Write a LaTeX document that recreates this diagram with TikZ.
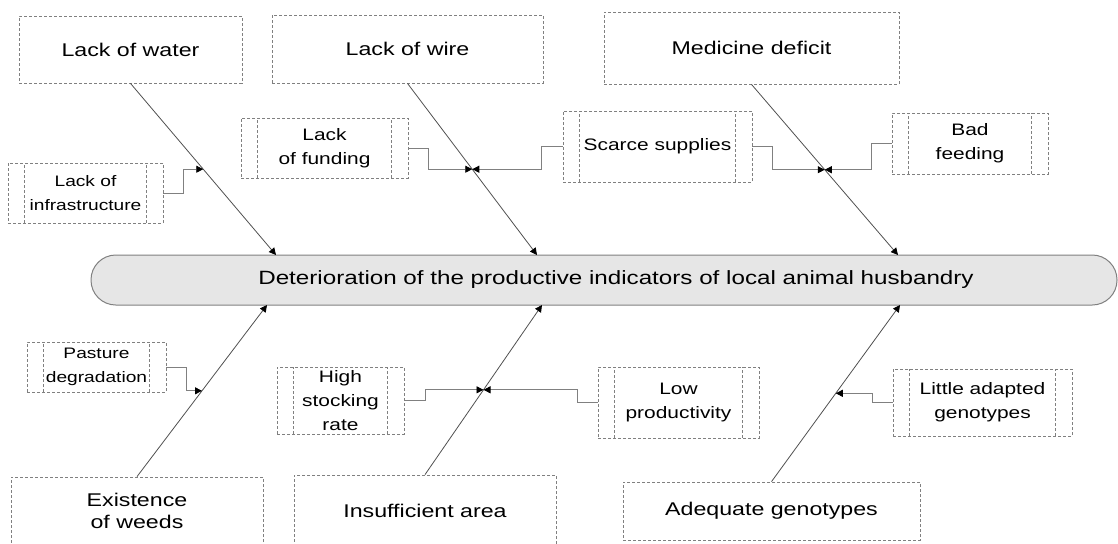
\documentclass[tikz,border=0pt]{standalone}
\usepackage{fontspec}
\setmainfont{Liberation Sans}[FakeStretch=1.26]
\usetikzlibrary{arrows.meta,calc}
\definecolor{lineG}{HTML}{808080}
\definecolor{boneG}{HTML}{505050}
\definecolor{headF}{HTML}{E6E6E6}
\tikzset{cause/.style={draw=lineG, dash pattern=on 1.5pt off 1pt, line width=0.4pt, font=\fontsize{9.2}{11}\selectfont, align=center, inner sep=0pt},
  sub/.style={cause, font=\fontsize{8.3}{12}\selectfont, path picture={\draw[lineG, dash pattern=on 1.5pt off 1pt] ([xshift=8.2pt]path picture bounding box.south west) -- ([xshift=8.2pt]path picture bounding box.north west) ([xshift=-8.2pt]path picture bounding box.south east) -- ([xshift=-8.2pt]path picture bounding box.north east);}},
  small/.style={font=\fontsize{7.6}{12}\selectfont},
  head/.style={draw=lineG, fill=headF, line width=0.5pt, rounded corners=12.4pt, minimum width=513pt, minimum height=25pt, inner sep=0pt, font=\fontsize{9.6}{11}\selectfont},
  bone/.style={-{Triangle[length=3.5pt,width=3.5pt,color=black]}, line width=0.4pt, boneG},
  twig/.style={-{Triangle[length=3.5pt,width=3.5pt,color=black]}, line width=0.4pt, lineG}}
\begin{document}
\begin{tikzpicture}[x=0.5pt,y=-0.5pt]
\useasboundingbox (0,0) rectangle (1118,543); \clip (0,0) rectangle (1118,543);
% ---- main causes, top ----
\node[cause, minimum width=111.5pt, minimum height=33.5pt] (water) at (130.5,49.5) {Lack of water};
\node[cause, minimum width=135.5pt, minimum height=34pt] (wire) at (407.5,49) {Lack of wire};
\node[cause, minimum width=147.5pt, minimum height=36pt] (medicine) at (751.5,48) {Medicine deficit};
% ---- sub-causes, top ----
\node[sub, small, minimum width=77.5pt, minimum height=30pt] (infra) at (85.5,193) {Lack of\\infrastructure};
\node[sub, minimum width=83.5pt, minimum height=30pt] (funding) at (324.5,148) {Lack\\of funding};
\node[sub, minimum width=94.5pt, minimum height=35.5pt] (scarce) at (657.5,146.5) {Scarce supplies};
\node[sub, minimum width=78pt, minimum height=30.5pt] (feeding) at (970,143.5) {Bad\\feeding};
% ---- effect ----
\node[head] (effect) at (604,280) {\hspace*{12pt}Deterioration of the productive indicators of local animal husbandry};
% ---- sub-causes, bottom ----
\node[sub, small, minimum width=69.5pt, minimum height=25pt] (pasture) at (96.5,367) {Pasture\\degradation};
\node[sub, minimum width=63.5pt, minimum height=33.5pt] (stocking) at (340.5,400.5) {High\\stocking\\rate};
\node[sub, minimum width=80.5pt, minimum height=35.5pt] (lowprod) at (678.5,402.5) {Low\\productivity};
\node[sub, minimum width=89.5pt, minimum height=33.5pt] (adapted) at (982.5,402.5) {Little adapted\\genotypes};
% ---- main causes, bottom ----
\node[cause, minimum width=126pt, minimum height=34pt] (weeds) at (137,511) {Existence\\of weeds};
\node[cause, minimum width=131pt, minimum height=36pt] (area) at (425,511) {Insufficient area};
\node[cause, minimum width=148.5pt, minimum height=29pt] (adequate) at (771.5,511) {Adequate genotypes};
% ---- bones ----
\foreach \c/\x/\m in {water/276/mw,wire/537/mi,medicine/898/mm}{
  \coordinate (\m-h) at (\x,255);
  \draw[bone] (\c.south) -- (\m-h);
  \coordinate (\m) at ($(\c.south)!0.5!(\m-h)$);}
\foreach \c/\x/\m in {weeds/267/mb1,area/542/mb2,adequate/900/mb3}{
  \coordinate (\m-h) at (\x,305);
  \draw[bone] (\c.north) -- (\m-h);
  \coordinate (\m) at ($(\c.north)!0.5!(\m-h)$);}
% ---- twigs ----
\draw[twig] (infra.east) -- ++(20,0) |- (mw);
\draw[twig] (funding.east) -- ++(20,0) |- (mi);
\draw[twig] (scarce.west) -- ++(-21,0) |- (mi);
\draw[twig] (scarce.east) -- ++(20,0) |- (mm);
\draw[twig] (feeding.west) -- ++(-20,0) |- (mm);
\draw[twig] (pasture.east) -- ++(20,0) |- (mb1);
\draw[twig] (stocking.east) -- ++(21,0) |- (mb2);
\draw[twig] (lowprod.west) -- ++(-20,0) |- (mb2);
\draw[twig] (adapted.west) -- ++(-20,0) |- (mb3);
\end{tikzpicture}
\end{document}
